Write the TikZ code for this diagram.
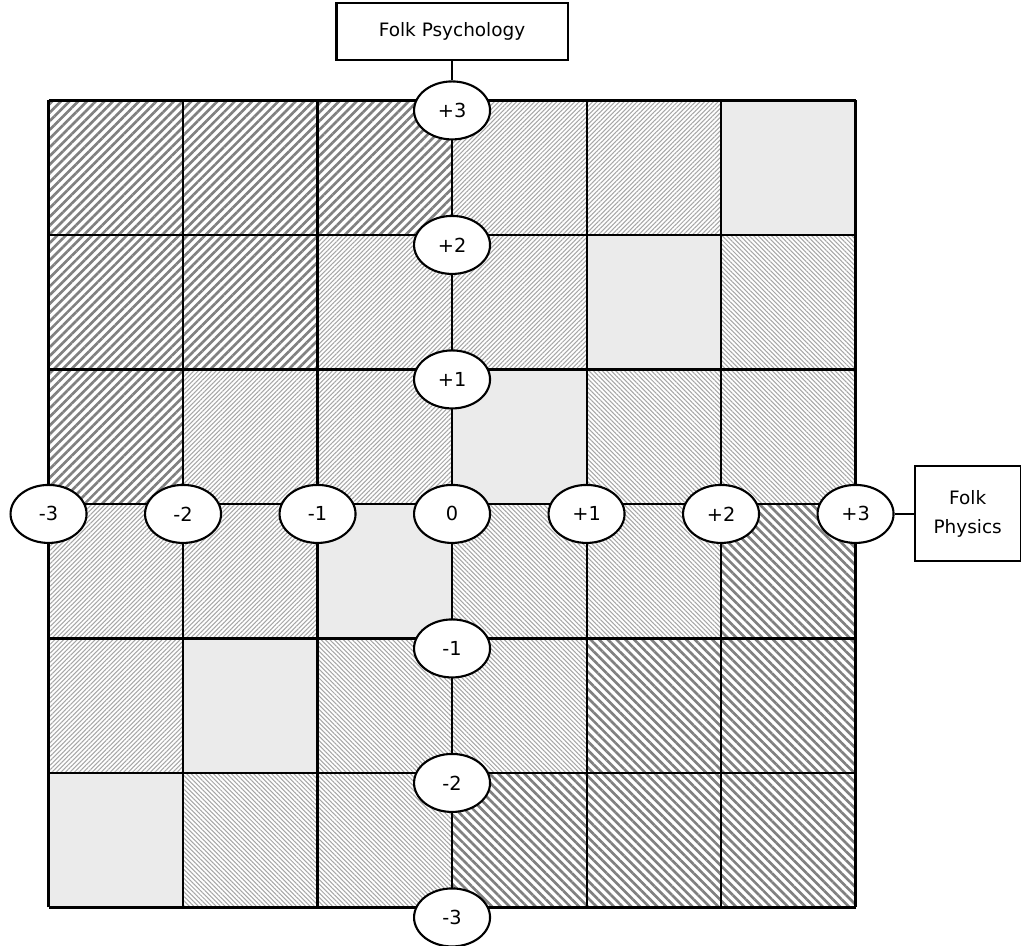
\documentclass[tikz,border=0pt]{standalone}
\usepackage{fontspec}
\setmainfont{DejaVu Sans}
\usetikzlibrary{shapes.geometric, positioning, patterns.meta}

\begin{document}
\begin{tikzpicture}[x=2.69cm,y=2.69cm,
    axislabel/.style={ellipse, draw, fill=white, line width=1.2pt, minimum width=1.52cm, minimum height=1.16cm, inner sep=0pt, font=\fontsize{11}{13}\selectfont},
    axisbox/.style={rectangle, draw, fill=white, line width=1.2pt, align=center, font=\fontsize{10.5}{17}\selectfont},
    coarsene/.style={pattern={Lines[angle=45,distance=3.5pt,line width=1.5pt]}, pattern color=black!50},
    coarsenw/.style={pattern={Lines[angle=-45,distance=3.5pt,line width=1.5pt]}, pattern color=black!50},
    finene/.style={pattern={Lines[angle=45,distance=1.8pt,line width=0.6pt]}, pattern color=black!35},
    finenw/.style={pattern={Lines[angle=-45,distance=1.8pt,line width=0.6pt]}, pattern color=black!35}]
        \useasboundingbox (-3.361,-3.279) rectangle (4.230,3.747);

        % cells
        \foreach \x/\y in {-3/2,-2/2,-1/2,-3/1,-2/1,-3/0}
          \fill[coarsene] (\x,\y) rectangle ++(1,1);
        \foreach \x/\y in {0/2,1/2,-1/1,0/1,-2/0,-1/0,-3/-1,-2/-1,-3/-2}
          \fill[finene] (\x,\y) rectangle ++(1,1);
        \foreach \x/\y in {2/2,1/1,0/0,-1/-1,-2/-2,-3/-3}
          \fill[black!8] (\x,\y) rectangle ++(1,1);
        \foreach \x/\y in {2/1,1/0,2/0,0/-1,1/-1,-1/-2,0/-2,-2/-3,-1/-3}
          \fill[finenw] (\x,\y) rectangle ++(1,1);
        \foreach \x/\y in {2/-1,1/-2,2/-2,0/-3,1/-3,2/-3}
          \fill[coarsenw] (\x,\y) rectangle ++(1,1);

        \draw[line width=1.2pt, step=2.69cm] (-3,-3) grid (3,3);

        % folk physics axis
        \node[axislabel] (h1) at (-3,-0.074) {-3};
        \node[axislabel] (h2) at (-2,-0.074) {-2};
        \node[axislabel] (h3) at (-1,-0.074) {-1};
        \node[axislabel] (o)  at (0,-0.074) {0};
        \node[axislabel] (h5) at (1,-0.074) {+1};
        \node[axislabel] (h6) at (2,-0.074) {+2};
        \node[axislabel] (h7) at (3,-0.074) {+3};

        % folk psychology axis
        \node[axislabel] (v1) at (0,2.926) {+3};
        \node[axislabel] (v2) at (0,1.926) {+2};
        \node[axislabel] (v3) at (0,0.926) {+1};
        \node[axislabel] (v5) at (0,-1.074) {-1};
        \node[axislabel] (v6) at (0,-2.074) {-2};
        \node[axislabel] (v7) at (0,-3.074) {-3};

        \node[axisbox, minimum width=4.62cm, minimum height=1.14cm, above=0.39cm of v1] (psy) {Folk Psychology};
        \node[axisbox, minimum width=2.12cm, minimum height=1.9cm, right=0.38cm of h7] (phys) {Folk\\Physics};

        \draw[line width=1.2pt] (psy) -- (v1);
        \draw[line width=1.2pt] (phys) -- (h7);
      \end{tikzpicture}
\end{document}
